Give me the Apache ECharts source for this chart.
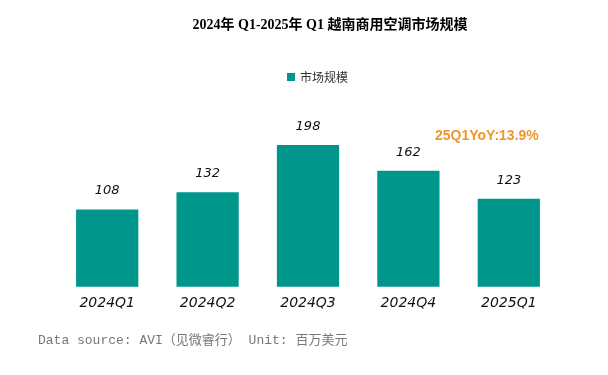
<!DOCTYPE html>
<html><head><meta charset="utf-8">
<script src="https://cdn.jsdelivr.net/npm/echarts@6/dist/echarts.min.js"></script>
<style>html,body{margin:0;padding:0;background:#fff}#c{width:608px;height:375px}</style>
</head><body><div id="c"></div>
<script>
const categories = ['2024Q1','2024Q2','2024Q3','2024Q4','2025Q1'];
const marketSize = [108, 132, 198, 162, 123];
const seriesName = '市场规模';
const titleText = '2024年 Q1-2025年 Q1 越南商用空调市场规模';
const noteText = '25Q1YoY:13.9%';
const footText = 'Data source: AVI（见微睿行） Unit: 百万美元';

const chart = echarts.init(document.getElementById('c'));
chart.setOption({
  animation: false,
  title: {
    text: titleText, left: 325, top: 13, textAlign: 'center',
    textStyle: {fontFamily: '"Liberation Serif","Noto Sans CJK SC"', fontWeight: 'bold', fontSize: 14, color: '#000'}
  },
  legend: {
    data: [seriesName], top: 71, left: 287, itemWidth: 8, itemHeight: 8, itemGap: 6,
    icon: 'rect', textStyle: {fontFamily: '"Noto Sans CJK SC"', fontSize: 12, color: '#333'},
    padding: 0
  },
  grid: {left: 57, right: 49, top: 107.8, bottom: 88.3, containLabel: false},
  xAxis: {
    type: 'category', data: categories,
    axisLine: {show: false}, axisTick: {show: false},
    axisLabel: {margin: 10, fontFamily: '"DejaVu Sans"', fontStyle: 'italic', fontSize: 14, color: '#111'}
  },
  yAxis: {type: 'value', min: 0, max: 250, show: false, splitLine: {show: false}},
  series: [{
    name: seriesName, type: 'bar', data: marketSize, barCategoryGap: '38%',
    itemStyle: {color: '#00968c'},
    label: {show: true, position: 'top', distance: 12, fontFamily: '"DejaVu Sans"', fontStyle: 'italic', fontSize: 13, color: '#111'}
  }],
  graphic: [
    {type: 'text', left: 435, top: 129, style: {text: noteText, fill: '#f0962e', font: 'bold 14px "Liberation Sans"'}},
    {type: 'text', left: 38, top: 334, style: {text: footText, fill: '#777', font: '13px "Liberation Mono","Noto Sans CJK SC"'}}
  ]
});
</script></body></html>
